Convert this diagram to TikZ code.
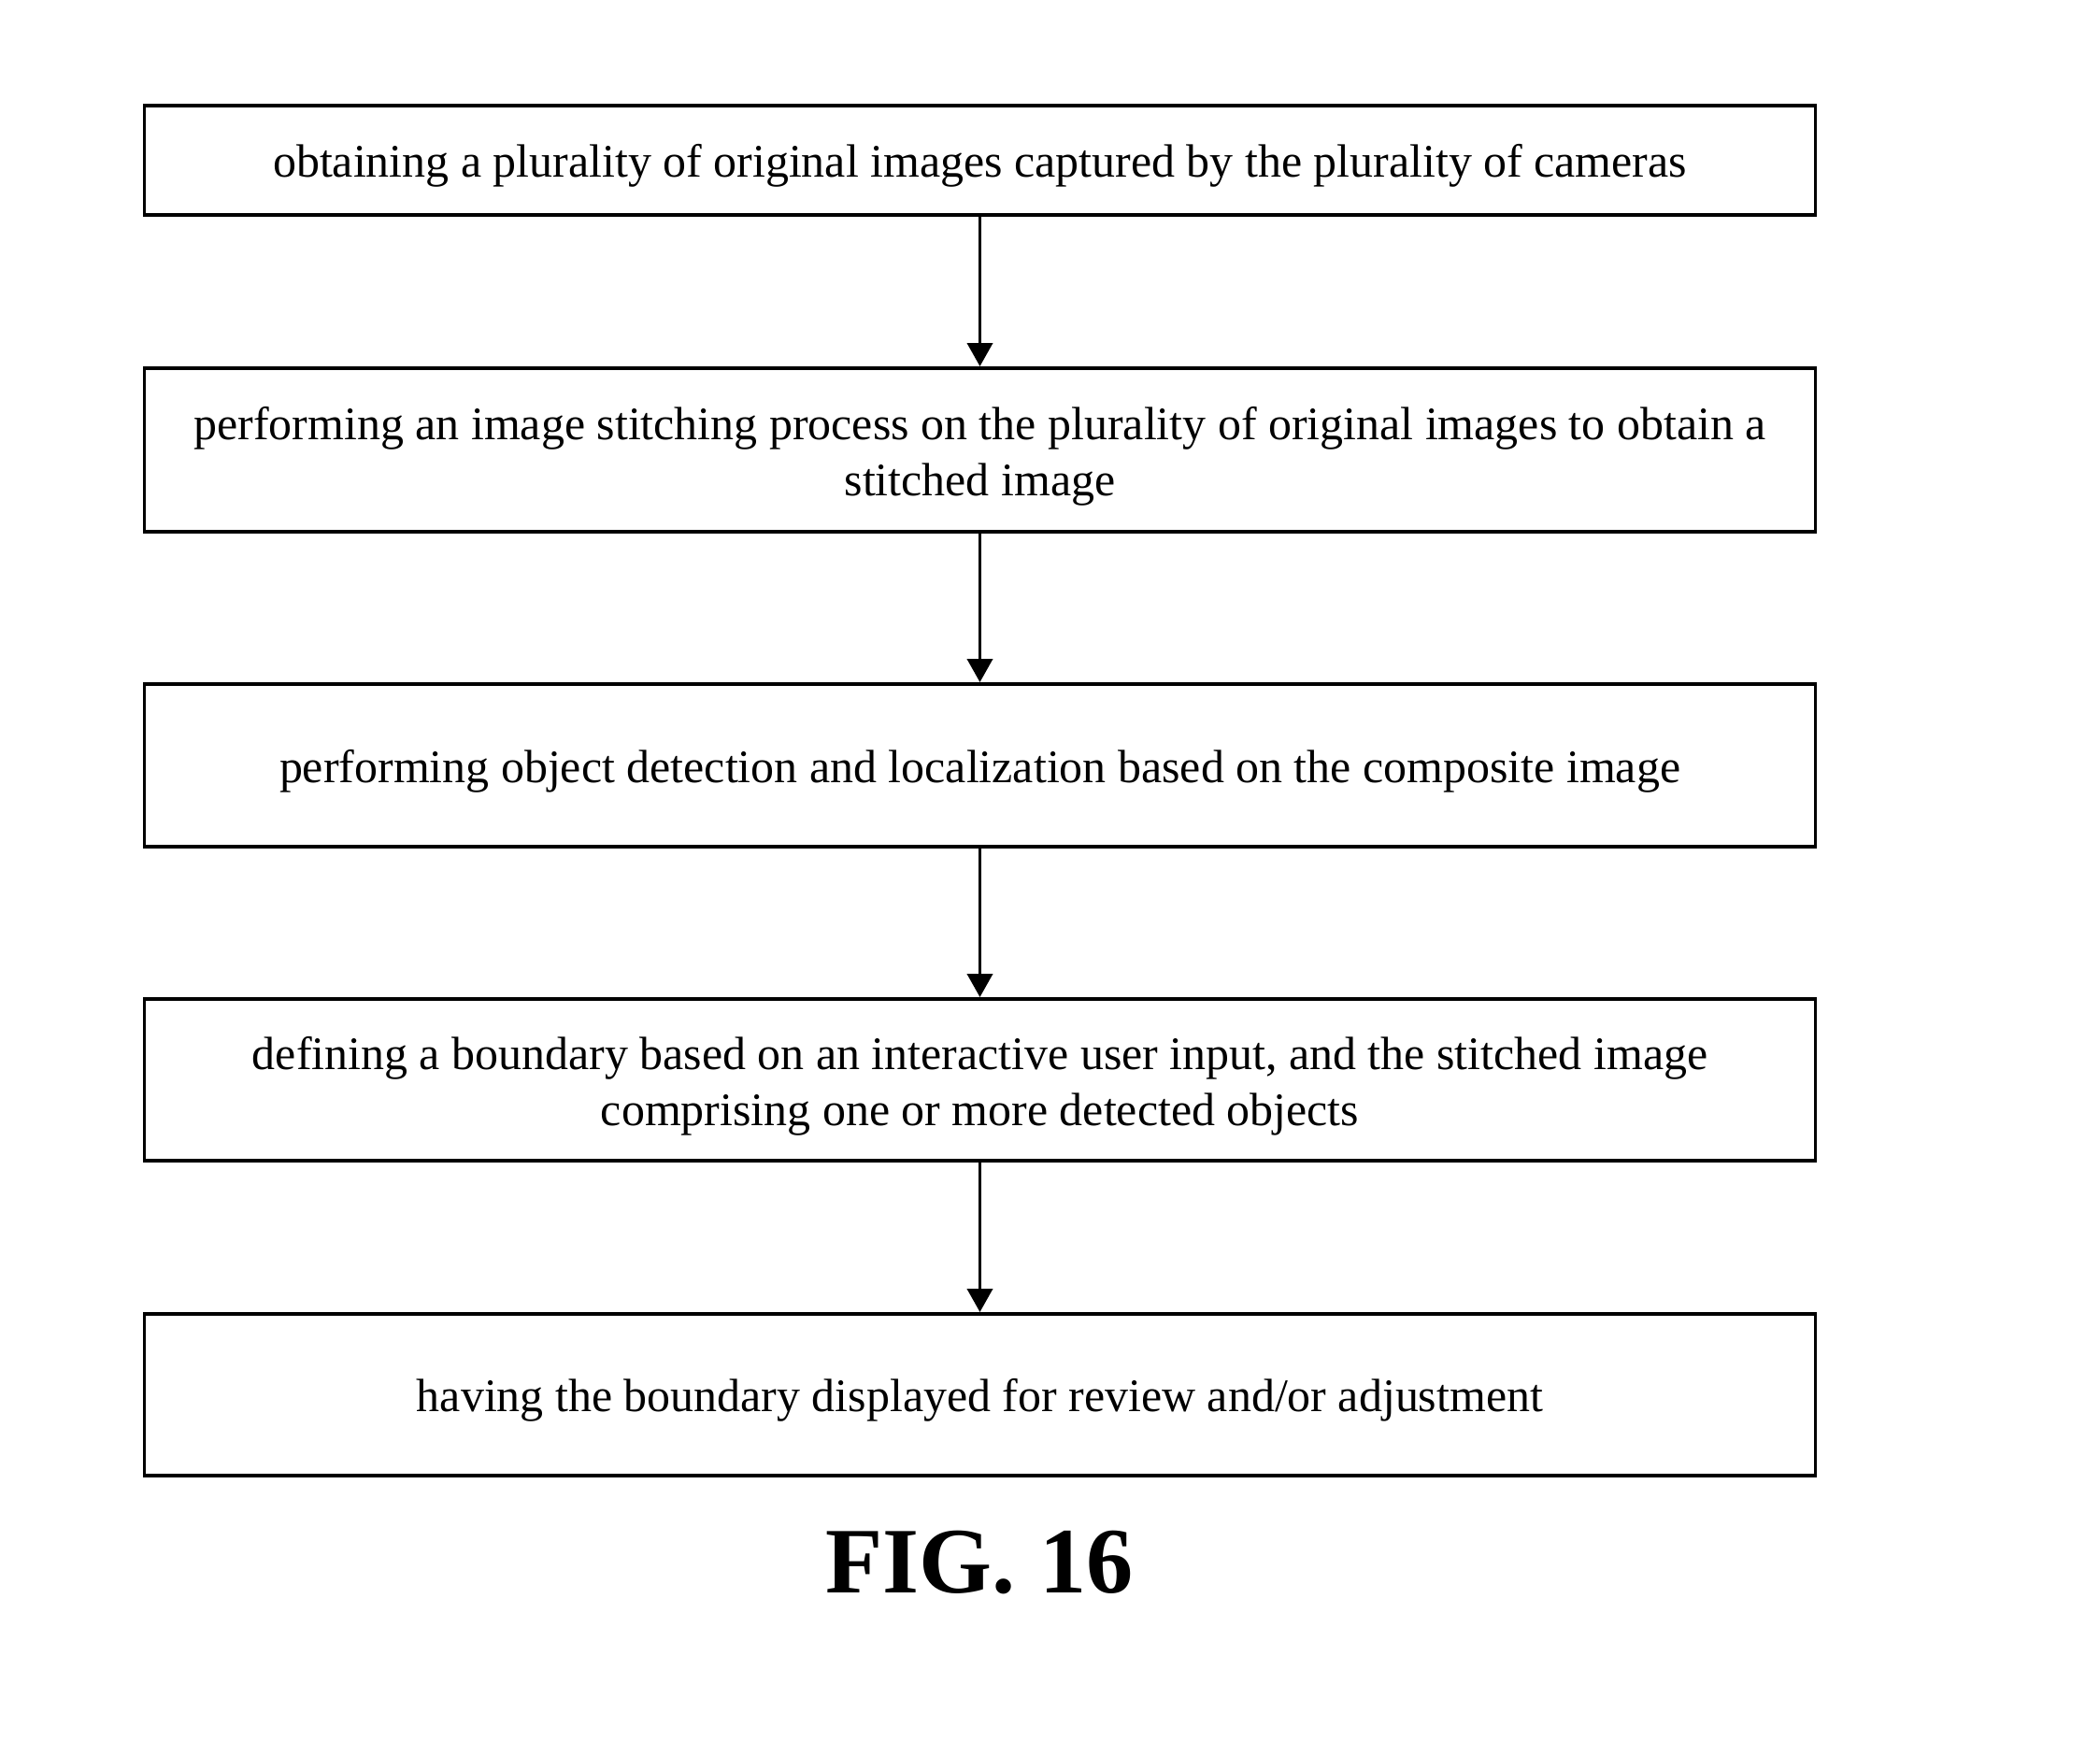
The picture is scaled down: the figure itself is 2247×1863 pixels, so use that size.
\documentclass[tikz,border=0pt]{standalone}
\usepackage{fontspec}
\setmainfont{Liberation Serif}
\usetikzlibrary{arrows.meta}

\tikzset{
  stepbox/.style={draw, line width=1.1pt, minimum width=17.87cm, align=center,
    font=\fontsize{14.2}{17.2}\selectfont, inner sep=0pt,
    execute at begin node={\rule{0pt}{0.56cm}},
    execute at end node={\rule[-0.2cm]{0pt}{0.2cm}}},
  flow/.style={-{Triangle[length=0.25cm,width=0.27cm]}, line width=1.1pt}
}
\newcommand{\lowerline}{\rule{0pt}{0.58cm}}

\begin{document}
\begin{tikzpicture}[x=0.01cm,y=-0.01cm]
\useasboundingbox (0,0) rectangle (2247,1863);
\node [stepbox, minimum height=1.17cm] (obtain) at (1048.5,171.5) {obtaining a plurality of original images captured by the plurality of cameras};
\node [stepbox, minimum height=1.75cm] (stitch) at (1048.5,481.5) {\lowerline performing an image stitching process on the plurality of original images to obtain a\\ stitched image};
\node [stepbox, minimum height=1.74cm] (detect) at (1048.5,819) {performing object detection and localization based on the composite image};
\node [stepbox, minimum height=1.73cm] (boundary) at (1048.5,1155.5) {\lowerline defining a boundary based on an interactive user input, and the stitched image\\ comprising one or more detected objects};
\node [stepbox, minimum height=1.73cm] (display) at (1048.5,1492.5) {having the boundary displayed for review and/or adjustment};
\node [font=\fontsize{28.5}{34}\selectfont\bfseries] (fig) at (1048,1672) {FIG. 16};
\draw [flow] (obtain) -- (stitch);
\draw [flow] (stitch) -- (detect);
\draw [flow] (detect) -- (boundary);
\draw [flow] (boundary) -- (display);
\end{tikzpicture}
\end{document}
